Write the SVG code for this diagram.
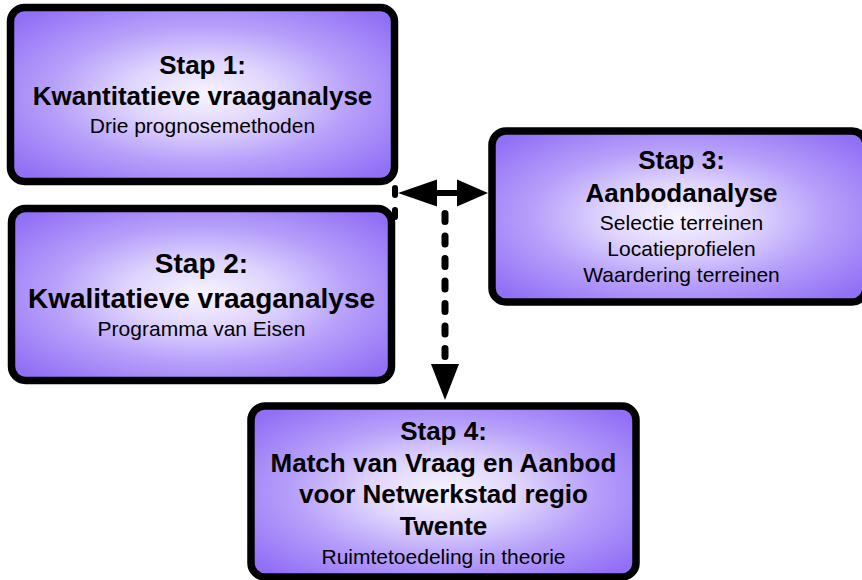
<svg xmlns="http://www.w3.org/2000/svg" width="862" height="580" viewBox="0 0 862 580">
  <defs>
    <radialGradient id="glow" cx="50%" cy="50%" r="64%">
      <stop offset="0" stop-color="#f7f4ff"/>
      <stop offset="0.3" stop-color="#e0d6fe"/>
      <stop offset="0.62" stop-color="#b69ffa"/>
      <stop offset="1" stop-color="#9270f6"/>
    </radialGradient>
  </defs>
  <style>
    .box { fill: url(#glow); stroke: #000; stroke-width: 7.5; }
    text { font-family: "Liberation Sans", Arial, sans-serif; fill: #000; text-anchor: middle; }
    .t { font-weight: bold; font-size: 26px; }
    .t2 { font-weight: bold; font-size: 28px; }
    .s { font-size: 21px; }
    .dash { stroke: #000; stroke-width: 7; stroke-linecap: round; stroke-dasharray: 8 14.5; fill: none; }
  </style>

  <g id="stap1">
    <rect class="box" x="10.5" y="7.5" width="384" height="174" rx="14"/>
    <text class="t" x="202.5" y="74">Stap 1:</text>
    <text class="t" x="202.5" y="105">Kwantitatieve vraaganalyse</text>
    <text class="s" x="202.5" y="133">Drie prognosemethoden</text>
  </g>

  <g id="stap2">
    <rect class="box" x="11.5" y="208.5" width="380" height="172" rx="14"/>
    <text class="t2" x="201.5" y="273">Stap 2:</text>
    <text class="t2" x="201.5" y="308">Kwalitatieve vraaganalyse</text>
    <text class="s" x="201.5" y="336">Programma van Eisen</text>
  </g>

  <g id="stap3">
    <rect class="box" x="492" y="131" width="374" height="171" rx="14"/>
    <text class="t" x="681.5" y="169">Stap 3:</text>
    <text class="t" x="681.5" y="202">Aanbodanalyse</text>
    <text class="s" x="681.5" y="230">Selectie terreinen</text>
    <text class="s" x="681.5" y="256">Locatieprofielen</text>
    <text class="s" x="681.5" y="282">Waardering terreinen</text>
  </g>

  <g id="stap4">
    <rect class="box" x="251" y="406" width="385" height="171" rx="14"/>
    <text class="t" x="443.5" y="440">Stap 4:</text>
    <text class="t" x="443.5" y="472">Match van Vraag en Aanbod</text>
    <text class="t" x="443.5" y="503">voor Netwerkstad regio</text>
    <text class="t" x="443.5" y="535">Twente</text>
    <text class="s" x="443.5" y="564">Ruimtetoedeling in theorie</text>
  </g>

  <g id="connectors">
    <!-- connection points on the left boxes -->
    <rect x="392" y="185" width="6" height="13" rx="3" fill="#000"/>
    <rect x="392" y="207" width="6" height="13" rx="3" fill="#000"/>
    <!-- two-way link between the demand side and Stap 3 -->
    <line x1="436" y1="193" x2="458" y2="193" stroke="#000" stroke-width="6"/>
    <path d="M398,193 L437,179.5 L437,206.5 Z" fill="#000"/>
    <path d="M488,193 L457,179.5 L457,206.5 Z" fill="#000"/>
    <!-- dashed flow down to Stap 4 -->
    <line class="dash" x1="445" y1="213.5" x2="445" y2="358"/>
    <path d="M445,400 L431,364 L459,364 Z" fill="#000"/>
  </g>
</svg>
